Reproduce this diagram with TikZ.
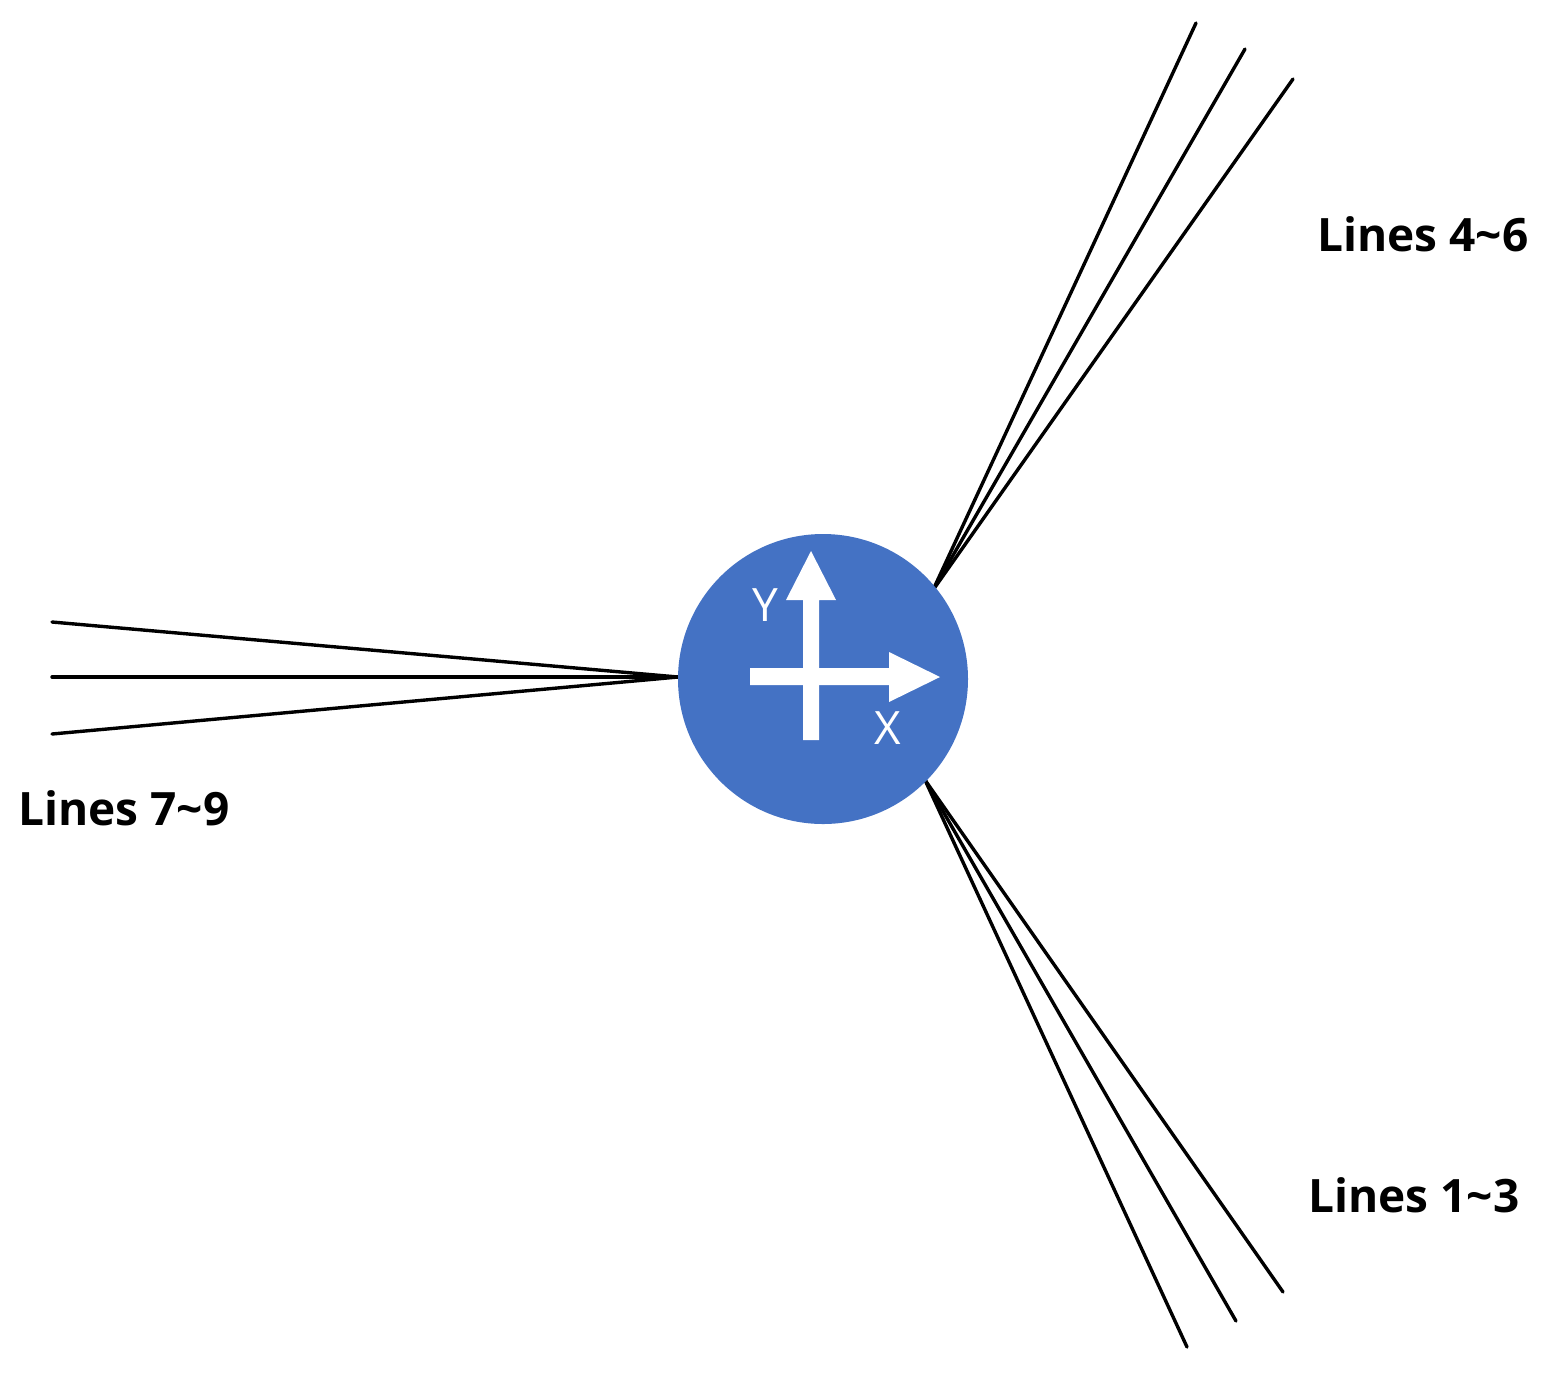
\documentclass[tikz,border=0pt]{standalone}
\usepackage{fontspec}
\setmainfont{Open Sans}
\definecolor{hubblue}{HTML}{4472C4}
\tikzset{
  wire/.style={line width=1.7pt, line cap=round},
  lbl/.style={font=\fontsize{23}{27}\selectfont\bfseries},
  axlbl/.style={font=\fontsize{23}{27}\selectfont, text=white},
}
\begin{document}
\begin{tikzpicture}[x=0.5pt,y=-0.5pt]
	\useasboundingbox (0,0) rectangle (1546,1372);
	
	%%%%% lines %%%%%
	\coordinate (w) at (678,677);
	\coordinate (ne) at (933,590);
	\coordinate (se) at (925,780);
	
	\coordinate (w1) at (52,622);
	\coordinate (w2) at (52,677);
	\coordinate (w3) at (52,734);
	\coordinate (n1) at (1196,23);
	\coordinate (n2) at (1245,49);
	\coordinate (n3) at (1293,79);
	\coordinate (s1) at (1187,1347);
	\coordinate (s2) at (1236,1321);
	\coordinate (s3) at (1283,1292);
	
	\foreach \i in {1,2,3}{
		\draw[wire] (w) -- (w\i);
		\draw[wire] (ne) -- (n\i);
		\draw[wire] (se) -- (s\i);
	}
	
	%%%%% hub %%%%%
	\node[circle, fill=hubblue, minimum size=145pt, inner sep=0pt] (hub) at (823,679) {};
	
	\fill[white] (803,740) -- (803,600) -- (786,600) -- (811,551) -- (836,600) -- (819,600) -- (819,740) -- cycle;
	\fill[white] (750,668) -- (889,668) -- (889,652) -- (940,677) -- (889,702) -- (889,685) -- (750,685) -- cycle;
	
	\node[axlbl] (ylbl) at (765,605) {Y};
	\node[axlbl] (xlbl) at (888,728) {X};
	
	%%%%% labels %%%%%
	\node[lbl] (lab46) at (1423,234) {Lines 4\textasciitilde6};
	\node[lbl] (lab79) at (124,808) {Lines 7\textasciitilde9};
	\node[lbl] (lab13) at (1414,1195) {Lines 1\textasciitilde3};
\end{tikzpicture}
\end{document}
